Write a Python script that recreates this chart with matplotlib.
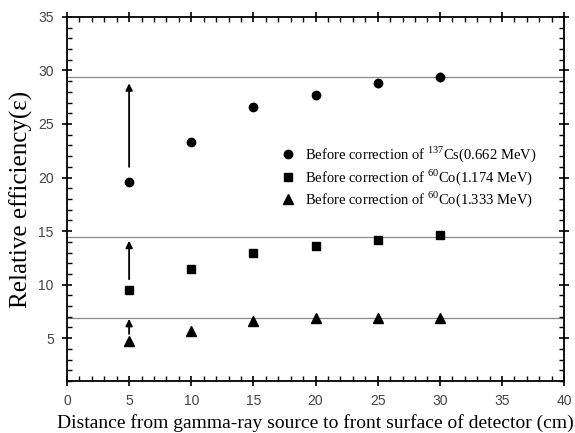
import matplotlib
matplotlib.use("Agg")
import matplotlib.pyplot as plt
from matplotlib.ticker import MultipleLocator

distance = [5, 10, 15, 20, 25, 30]
cs662 = [19.6, 23.3, 26.6, 27.7, 28.8, 29.4]
cs662_err = [0.0, 0.0, 0.2, 0.4, 0.4, 0.5]
co1174 = [9.5, 11.5, 13.0, 13.6, 14.2, 14.6]
co1333 = [4.7, 5.7, 6.6, 6.9, 6.9, 6.9]
ref_levels = [29.35, 14.45, 6.9]
arrow_starts = [21.0, 10.5, 5.4]
arrow_ends = [28.8, 14.1, 6.8]
labels = [r"Before correction of $^{137}$Cs(0.662 MeV)",
          r"Before correction of $^{60}$Co(1.174 MeV)",
          r"Before correction of $^{60}$Co(1.333 MeV)"]

plt.rcParams['mathtext.fontset'] = 'custom'
plt.rcParams['mathtext.rm'] = 'Liberation Serif'

fig = plt.figure(figsize=(5.75, 4.33), dpi=100)
ax = fig.add_axes([0.1165, 0.12, 0.8645, 0.841])

for lv in ref_levels:
    ax.axhline(lv, color='#888888', lw=0.9, zorder=1)

for ys, ye in zip(arrow_starts, arrow_ends):
    ax.annotate('', xy=(5, ye), xytext=(5, ys),
                arrowprops=dict(arrowstyle='-|>', color='black', lw=1.3,
                                mutation_scale=10, shrinkA=0, shrinkB=0))

h1 = ax.errorbar(distance, cs662, yerr=cs662_err, fmt='o', color='black', ms=6,
                 ecolor='#555555', elinewidth=1, capsize=0, zorder=3)
h2, = ax.plot(distance, co1174, 's', color='black', ms=5.5, zorder=3)
h3, = ax.plot(distance, co1333, '^', color='black', ms=6.5, zorder=3)

ax.set_xlim(0, 40)
ax.set_ylim(1, 35)
ax.xaxis.set_major_locator(MultipleLocator(5))
ax.xaxis.set_minor_locator(MultipleLocator(1))
ax.yaxis.set_major_locator(MultipleLocator(5))
ax.yaxis.set_minor_locator(MultipleLocator(1))
ax.set_yticks([5, 10, 15, 20, 25, 30, 35])
ax.tick_params(which='both', top=True, right=True,
               labelcolor='#444444', labelsize=10)
ax.tick_params(which='major', direction='inout', length=7, width=1.2, pad=6)
ax.tick_params(which='minor', direction='in', length=3.5, width=1)
ax.tick_params(axis='x', which='major', pad=6)
for lbl in ax.get_xticklabels() + ax.get_yticklabels():
    lbl.set_family('Liberation Sans')
for s in ax.spines.values():
    s.set_linewidth(1.3)

ax.set_ylabel('Relative efficiency(ε)', fontfamily='Liberation Serif', fontsize=18, labelpad=4)
ax.set_xlabel('Distance from gamma-ray source to front surface of detector (cm)',
              fontfamily='Liberation Serif', fontsize=14, labelpad=4)

line_cs = plt.Line2D([], [], marker='o', ls='none', color='black', ms=6)
leg = ax.legend([line_cs, h2, h3], labels, loc='upper left',
                bbox_to_anchor=(0.40, 0.685), frameon=False,
                prop={'family': 'Liberation Serif', 'size': 10.5}, handletextpad=0.6,
                labelspacing=0.2, handlelength=1.2, numpoints=1)

fig.savefig('out.png', dpi=100)
